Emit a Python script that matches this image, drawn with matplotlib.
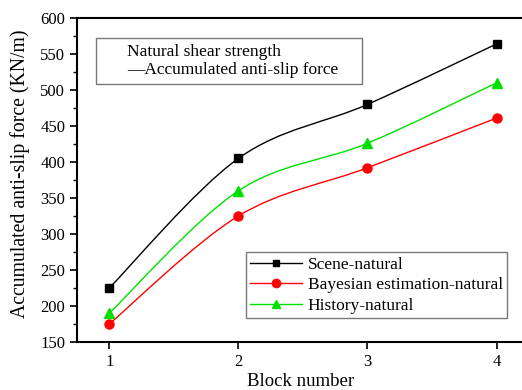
import matplotlib.pyplot as plt
import numpy as np
from matplotlib.path import Path
from matplotlib.patches import PathPatch, Rectangle
from matplotlib.lines import Line2D
from matplotlib.ticker import MultipleLocator

plt.rcParams['font.family'] = ['Liberation Serif', 'DejaVu Serif']

# Data
blocks = [1, 2, 3, 4]
scene = [225, 405, 480, 564]
bayes = [175, 325, 392, 461]
history = [190, 360, 426, 510]

series = [
    ('Scene-natural', scene, 'black', 's'),
    ('Bayesian estimation-natural', bayes, 'red', 'o'),
    ('History-natural', history, '#00e000', '^'),
]


def smooth_path(x, y):
    # Catmull-Rom style bezier through the data points
    x = np.asarray(x, float)
    y = np.asarray(y, float)
    verts = [(x[0], y[0])]
    codes = [Path.MOVETO]
    n = len(x)
    for i in range(n - 1):
        x0, y0 = (x[i - 1], y[i - 1]) if i > 0 else (x[i], y[i])
        x3, y3 = (x[i + 2], y[i + 2]) if i + 2 < n else (x[i + 1], y[i + 1])
        c1 = (x[i] + (x[i + 1] - x0) / 6, y[i] + (y[i + 1] - y0) / 6)
        c2 = (x[i + 1] - (x3 - x[i]) / 6, y[i + 1] - (y3 - y[i]) / 6)
        verts += [c1, c2, (x[i + 1], y[i + 1])]
        codes += [Path.CURVE4] * 3
    return Path(verts, codes)


fig = plt.figure(figsize=(5.22, 3.9), dpi=100)
L, B, W, H = 77, 342, 448, 324
ax = fig.add_axes([L / 522, 1 - B / 390, W / 522, H / 390])

handles = []
for name, vals, col, mk in series:
    ax.add_patch(PathPatch(smooth_path(blocks, vals), facecolor='none',
                           edgecolor=col, lw=1.0))
    ax.plot(blocks, vals, linestyle='none', marker=mk, color=col,
            markersize=6.5 if mk != 's' else 5.5)
    handles.append(Line2D([], [], color=col, marker=mk, lw=1.0,
                          markersize=6 if mk != 's' else 5))

ax.set_xlim(0.75, 4.22)
ax.set_ylim(150, 600)
ax.set_xticks(blocks)
ax.yaxis.set_major_locator(MultipleLocator(50))
ax.yaxis.set_minor_locator(MultipleLocator(25))
ax.tick_params(axis='both', direction='out', labelsize=12, width=1.2, length=5)
ax.tick_params(axis='y', which='minor', direction='out', width=1.0, length=3)
for s in ax.spines.values():
    s.set_linewidth(1.5)

ax.set_xlabel('Block number', fontsize=13.5, labelpad=2)
ax.set_ylabel('Accumulated anti-slip force (KN/m)', fontsize=14.2)
ax.yaxis.set_label_coords(-0.105, 0.52)


def px(x, y):
    return ((x - L) / W, (B - y) / H)


# annotation box
x0, y0 = px(96, 84)
x1, y1 = px(362, 38)
ax.add_patch(Rectangle((x0, y0), x1 - x0, y1 - y0, transform=ax.transAxes,
                       facecolor='white', edgecolor='#777777', lw=1.0, zorder=5))
tx, ty = px(127, 61)
ax.text(tx, ty, 'Natural shear strength\n\u2014Accumulated anti-slip force',
        transform=ax.transAxes, fontsize=12.5, va='center', ha='left',
        linespacing=1.15, zorder=6)

lx, ly = px(507, 318)
leg = ax.legend(handles, [s[0] for s in series], loc='lower right',
                bbox_to_anchor=(lx, ly), fontsize=12.5, frameon=True,
                fancybox=False, edgecolor='#555555', handlelength=3.0,
                borderpad=0.25, labelspacing=0.25, handletextpad=0.3,
                borderaxespad=0)
leg.get_frame().set_linewidth(1.0)

fig.savefig('out.png', dpi=100)
